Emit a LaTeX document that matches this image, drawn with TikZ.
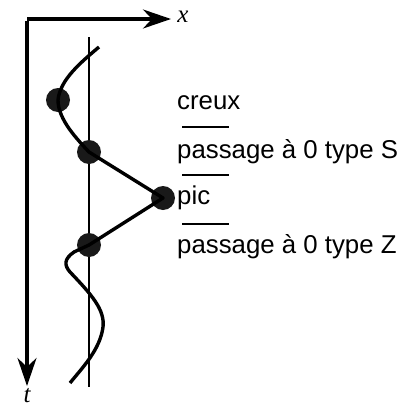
\documentclass[tikz,border=0pt]{standalone}
\usepackage{fontspec}
\setmainfont{Liberation Sans}
\newfontfamily\serifit{Liberation Serif}
\usetikzlibrary{arrows.meta}
\begin{document}
\begin{tikzpicture}[x=1pt,y=-1pt,
  axis/.style={line width=3.2pt,-{Stealth[length=28pt,width=19pt,inset=9pt]}},
  curve/.style={line width=3.4pt,line join=round},
  dot/.style={circle,fill=black!90,inner sep=0pt,minimum size=24pt},
  lab/.style={anchor=west,inner sep=0pt,font=\fontsize{25.8}{28}\selectfont},
  sep/.style={line width=1.4pt},
  axlab/.style={inner sep=0pt,font=\fontsize{25}{28}\selectfont\serifit\itshape}]
\useasboundingbox (0,0) rectangle (402,410);
\coordinate (o) at (27,19);
\coordinate (xe) at (171,19);
\coordinate (te) at (27,386);
\draw[axis] (o) -- (xe);
\draw[axis] ([yshift=-1.6pt]o) -- (te);
\node[axlab] (xl) at (183,17) {x};
\node[axlab,anchor=base] (tl) at (27,402) {t};
% reference line
\coordinate (rt) at (89,37);
\coordinate (rb) at (89,387);
\draw[line width=1.4pt] (rt) -- (rb);
% points
\coordinate (s) at (99,47);
\coordinate (e) at (70,383);
\node[dot] (c1) at (58,100) {};
\node[dot] (c2) at (89,152) {};
\node[dot] (c3) at (163,198) {};
\node[dot] (c4) at (89,245) {};
\draw[curve] (s) .. controls (80,63) and (60,80) .. (c1.center)
  .. controls (58,120) and (78,140) .. (c2.center)
  -- (c3.center) -- (c4.center) -- (74,252)
  .. controls (64,259) and (64,265) .. (70,272)
  .. controls (92,295) and (105,310) .. (103,327)
  .. controls (100,350) and (82,368) .. (e);
% labels
\node[lab] (l1) at (177,103) {creux};
\node[lab] (l2) at (177,152) {passage à 0 type S};
\node[lab] (l3) at (177,198) {pic};
\node[lab] (l4) at (177,247) {passage à 0 type Z};
\draw[sep] (182,127) -- (229,127);
\draw[sep] (182,175) -- (229,175);
\draw[sep] (182,224) -- (229,224);
\end{tikzpicture}
\end{document}
